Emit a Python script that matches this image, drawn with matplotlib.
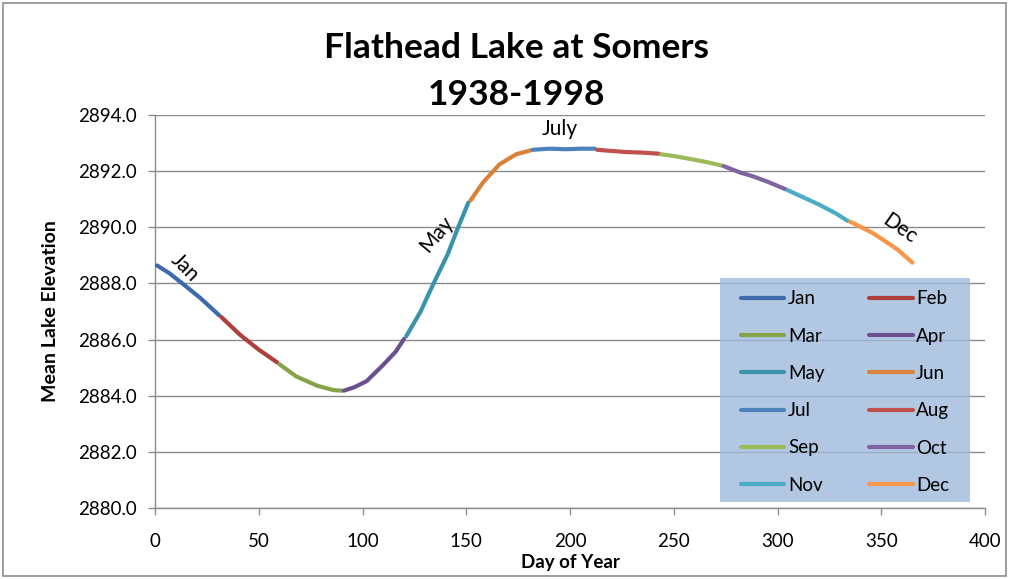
import matplotlib
matplotlib.use("Agg")
import matplotlib.pyplot as plt
from matplotlib.patches import Rectangle

plt.rcParams['font.family'] = ['Lato', 'DejaVu Sans']

months = ["Jan", "Feb", "Mar", "Apr", "May", "Jun",
          "Jul", "Aug", "Sep", "Oct", "Nov", "Dec"]
colors = ["#3C6AAA", "#B03E3B", "#86A34A", "#6A508C", "#3A93AA", "#D9823A",
          "#4F81BD", "#C0504D", "#9BBB59", "#8064A2", "#4BACC6", "#F79646"]

jan_days = [1, 7, 14, 22, 31]
jan_vals = [2888.64, 2888.36, 2887.95, 2887.47, 2886.86]
feb_days = [32, 41, 50, 59]
feb_vals = [2886.80, 2886.17, 2885.64, 2885.18]
mar_days = [60, 68, 78, 86, 90]
mar_vals = [2885.12, 2884.69, 2884.36, 2884.20, 2884.18]
apr_days = [91, 96, 102, 110, 116, 120]
apr_vals = [2884.18, 2884.30, 2884.52, 2885.10, 2885.57, 2886.02]
may_days = [121, 128, 134, 141, 146, 151]
may_vals = [2886.11, 2887.00, 2887.96, 2889.03, 2889.98, 2890.88]
jun_days = [152, 158, 166, 174, 181]
jun_vals = [2890.95, 2891.59, 2892.24, 2892.60, 2892.74]
jul_days = [182, 190, 198, 205, 212]
jul_vals = [2892.76, 2892.80, 2892.78, 2892.80, 2892.80]
aug_days = [213, 220, 227, 235, 243]
aug_vals = [2892.76, 2892.72, 2892.68, 2892.66, 2892.62]
sep_days = [244, 250, 256, 266, 273]
sep_vals = [2892.60, 2892.54, 2892.46, 2892.32, 2892.20]
oct_days = [274, 282, 288, 296, 304]
oct_vals = [2892.18, 2891.95, 2891.82, 2891.60, 2891.35]
nov_days = [305, 312, 320, 328, 334]
nov_vals = [2891.32, 2891.08, 2890.81, 2890.50, 2890.22]
dec_days = [335, 341, 346, 352, 358, 365]
dec_vals = [2890.20, 2889.98, 2889.79, 2889.50, 2889.20, 2888.74]

series = [(jan_days, jan_vals), (feb_days, feb_vals), (mar_days, mar_vals),
          (apr_days, apr_vals), (may_days, may_vals), (jun_days, jun_vals),
          (jul_days, jul_vals), (aug_days, aug_vals), (sep_days, sep_vals),
          (oct_days, oct_vals), (nov_days, nov_vals), (dec_days, dec_vals)]

fig = plt.figure(figsize=(10.10, 5.79), dpi=100)
ax = fig.add_axes([155/1010, 1-508/579, 830/1010, 393/579])

handles = []
for (d, v), m, c in zip(series, months, colors):
    h, = ax.plot(d, v, color=c, lw=3.0, solid_capstyle='round', label=m, zorder=3)
    handles.append(h)

ax.set_xlim(0, 400)
ax.set_ylim(2880, 2894)
ax.set_xticks(range(0, 401, 50))
ax.set_yticks(range(2880, 2895, 2))
ax.set_yticklabels([f"{t:.1f}" for t in range(2880, 2895, 2)])
ax.yaxis.grid(True, color="#8C8C8C", lw=1.0)
ax.set_axisbelow(True)
for s in ["top", "right"]:
    ax.spines[s].set_visible(False)
for s in ["left", "bottom"]:
    ax.spines[s].set_color("#8C8C8C")
    ax.spines[s].set_linewidth(1.0)
ax.tick_params(axis='both', colors="#8C8C8C", labelcolor="black", labelsize=13.5,
               length=5, width=1)
ax.tick_params(axis='x', pad=13)
ax.tick_params(axis='y', pad=8)

ax.set_xlabel("Day of Year", fontsize=13.5, fontweight='bold', labelpad=3)
ax.set_ylabel("Mean Lake Elevation", fontsize=14, fontweight='bold', labelpad=14)

fig.text(0.5115, 1-48/579, "Flathead Lake at Somers", ha='center', va='center',
         fontsize=25.5, fontweight='bold')
fig.text(0.5115, 1-95/579, "1938-1998", ha='center', va='center',
         fontsize=25.5, fontweight='bold')

ax.text(14.5, 2888.55, "Jan", rotation=-45, fontsize=15, ha='center', va='center')
ax.text(135.5, 2889.75, "May", rotation=50, fontsize=15, ha='center', va='center')
ax.text(195, 2893.50, "July", rotation=0, fontsize=15, ha='center', va='center')
ax.text(359, 2889.95, "Dec", rotation=-35, fontsize=15, ha='center', va='center')

# legend background box
ax.add_patch(Rectangle((565/830, 6/393), 250/830, 224/393, transform=ax.transAxes,
                       facecolor="#9CB8DB", alpha=0.78, edgecolor='none', zorder=4))

order = [0, 2, 4, 6, 8, 10, 1, 3, 5, 7, 9, 11]
leg = ax.legend([handles[i] for i in order], [months[i] for i in order],
                ncol=2, loc='upper left',
                bbox_to_anchor=(586/830, (393-175.5)/393),
                fontsize=13.5, frameon=False, handlelength=2.3,
                handletextpad=0.2, labelspacing=1.08, columnspacing=2.4,
                borderaxespad=0, borderpad=0)
leg.set_zorder(5)
for lh in leg.get_lines():
    lh.set_linewidth(3.0)

fig.patches.append(Rectangle((3/1010, 3/579), 1003/1010, 573/579, transform=fig.transFigure,
                             fill=False, edgecolor="#8C8C8C", lw=1.2))

fig.savefig("out.png", dpi=100)
